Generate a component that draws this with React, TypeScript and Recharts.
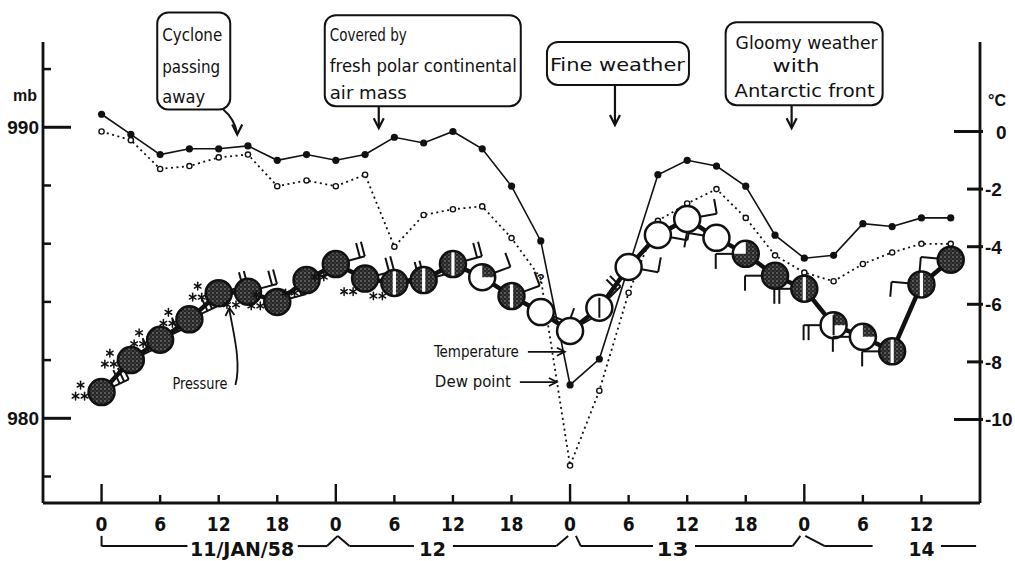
import React from 'react';
import { LineChart, Line, XAxis, YAxis, ReferenceDot, ReferenceLine } from 'recharts';

// ---- data (3-hourly observations, hours from 11 Jan 1958 00h) ----
const hours = [0, 3, 6, 9, 12, 15, 18, 21, 24, 27, 30, 33, 36, 39, 42, 45, 48, 51, 54, 57, 60, 63, 66, 69, 72, 75, 78, 81, 84, 87];
const pressure = [980.9, 982.0, 982.7, 983.4, 984.3, 984.35, 984.0, 984.75, 985.3, 984.8, 984.65, 984.75, 985.3, 984.85, 984.2, 983.65, 983.0, 983.8, 985.2, 986.3, 986.85, 986.2, 985.65, 984.9, 984.45, 983.2, 982.8, 982.3, 984.6, 985.45];
const temperature: (number | null)[] = [0.6, -0.1, -0.8, -0.6, -0.6, -0.5, -1.0, -0.8, -1.0, -0.8, -0.2, -0.4, 0.0, -0.6, -1.9, -3.8, -8.8, -7.9, null, -1.5, -1.0, -1.2, -1.9, -3.6, -4.4, -4.3, -3.2, -3.3, -3.0, -3.0];
const dewPoint = [0.0, -0.3, -1.3, -1.2, -0.9, -0.8, -1.9, -1.7, -1.9, -1.5, -4.0, -2.9, -2.7, -2.6, -3.7, -5.1, -11.6, -9.0, -5.6, -3.1, -2.5, -2.0, -3.0, -4.3, -4.9, -5.2, -4.6, -4.2, -3.9, -3.9];
const doubtfulDewHours = [45];
const cloudCover = [8, 8, 8, 8, 8, 8, 8, 8, 8, 8, 7, 7, 7, 2, 7, 0, 0, 1, 0, 0, 0, 0, 6, 8, 7, 3, 2, 7, 7, 8];
const windStaff = [-25, -25, -25, -25, -15, -15, -15, -15, -15, -15, -15, -15, -15, -20, -20, 20, -30, -45, 10, 10, -10, 190, 180, 180, 180, 180, 180, 180, 185, 185];
const windFeathers = [3, 3, 3, 3, 2, 2, 2, 2, 2, 2, 2, 2, 2, 1, 1, 1, 1, 2, 1, 1, 1, 1, 1, 1, 2, 2, 1, 1, 1, 1];
const snowSymbol = ['***', '***', '***', '***', '***', '**', '***', '**', '**', '**', '**', '', '', '', '', '', '', '', '', '', '', '', '', '', '', '', '', '', '', ''];

// ---- axes ----
const hourTicks = [0, 6, 12, 18, 24, 30, 36, 42, 48, 54, 60, 66, 72, 78, 84];
const pressureTicks = [978, 980, 982, 984, 986, 988, 990, 992];
const pressureLabelled = [980, 990];
const tempTicks = [0, -2, -4, -6, -8, -10];
const tempLabelled = [0, -10];

// ---- day labels under the axis ----
const dayLabelText = ['11/JAN/58', '12', '13', '14'];
const dayLabelHour = [14.4, 33.9, 58.5, 84.0];
const dayLabelWidth = [104, 27, 32, 26];
const bracketLow = 975.61;
const bracketHigh = 975.96;
const brackets: [number, number][][] = [
  [[0, 1], [0, 0], [8.8, 0]],
  [[20.1, 0], [23.1, 0], [24.2, 1], [25.4, 0], [32, 0]],
  [[36, 0], [46.6, 0], [47.8, 1]],
  [[48.6, 1], [49.1, 0], [56.5, 0]],
  [[60.8, 0], [70.8, 0], [71.6, 1]],
  [[72.1, 1], [74.1, 0], [79, 0]],
  [[86, 0], [89.6, 0]],
];

// ---- callouts ----
const calloutText = [
  ['Cyclone', 'passing', 'away'],
  ['Covered by', 'fresh polar continental', 'air mass'],
  ['Fine weather'],
  ['Gloomy weather', 'with', 'Antarctic front'],
];
const calloutHour = [13.9, 28.4, 52.6, 70.7];
const calloutPressure = [989.75, 989.97, 990.08, 989.97];
const calloutLayout = [
  { box: [-80, -122, 73, 97], lines: [[-75, -94, 60], [-75, -62, 58], [-75, -32, 43]], tail: 'curve', stem: -25 },
  { box: [-54, -113, 196, 91], lines: [[-49, -87, 77], [-49, -56, 187], [-49, -29, 77]], tail: 'stem', stem: -22 },
  { box: [-68, -83, 142, 43], lines: [[-65, -54, 135]], tail: 'stem', stem: -40 },
  { box: [-66, -106, 157, 83], lines: [[-56, -79, 142], [-19, -56, 47], [-57, -31, 140]], tail: 'stem', stem: -23 },
];

// inline labels
const pressureNoteHour = 13.1;
const pressureNoteValue = 983.79;
const seriesNoteText = ['Temperature', 'Dew point'];
const seriesNoteHour = [47.47, 46.65];
const seriesNoteValue = [-7.65, -8.7];
const seriesNoteWidth = [85, 76];

const data = hours.map((h, i) => ({
  hour: h,
  pressure: pressure[i],
  temperature: temperature[i],
  dewPoint: dewPoint[i],
}));

const NARROW = "'Liberation Sans Narrow','DejaVu Sans Condensed','Arial Narrow',sans-serif";
const SANS = "'Liberation Sans','DejaVu Sans',Arial,sans-serif";
const INK = '#111';

function PressureTick(props: any) {
  const { x, y, payload } = props;
  const v = payload.value;
  const major = pressureLabelled.includes(v);
  return (
    <g>
      <line x1={x} x2={x + (major ? 28 : 8)} y1={y} y2={y} stroke={INK} strokeWidth={major ? 3 : 2.5} />
      {major && (
        <text x={x - 4} y={y + 7} textAnchor="end" fontSize={19} fontWeight="bold" fontFamily={SANS} fill={INK}>
          {v}
        </text>
      )}
      {v === 990 && (
        <text x={x - 18} y={y - 26} textAnchor="middle" fontSize={16} fontWeight="bold" fontFamily={SANS} fill={INK}>
          mb
        </text>
      )}
    </g>
  );
}

function TempTick(props: any) {
  const { x, y, payload } = props;
  const v = payload.value;
  const major = tempLabelled.includes(v);
  return (
    <g>
      <line x1={x - (major ? 26 : 13)} x2={x + 3} y1={y} y2={y} stroke={INK} strokeWidth={3} />
      <text x={v === 0 ? x + 16 : x + 5} y={y + 7} textAnchor="start" fontSize={19} fontWeight="bold" fontFamily={SANS} fill={INK}>
        {v}
      </text>
      {v === 0 && (
        <text x={x + 17} y={y - 26} textAnchor="middle" fontSize={16} fontWeight="bold" fontFamily={SANS} fill={INK}>
          °C
        </text>
      )}
    </g>
  );
}

function HourTick(props: any) {
  const { x, y, payload } = props;
  const v = payload.value;
  const day = v % 24 === 0;
  return (
    <g>
      <line x1={x} x2={x} y1={y} y2={y - (day ? 19 : 8)} stroke={INK} strokeWidth={2.4} />
      <text x={x} y={y + 28} textAnchor="middle" fontSize={19} fontWeight="bold" fontFamily={NARROW} fill={INK}>
        {v % 24}
      </text>
    </g>
  );
}

function Star({ x, y, s }: { x: number; y: number; s: number }) {
  const c = 0.866 * s;
  const h = 0.5 * s;
  return (
    <g stroke={INK} strokeWidth={1.5} strokeLinecap="round">
      <line x1={x} y1={y - s} x2={x} y2={y + s} />
      <line x1={x - c} y1={y - h} x2={x + c} y2={y + h} />
      <line x1={x - c} y1={y + h} x2={x + c} y2={y - h} />
    </g>
  );
}

function StationDot(props: any) {
  const { cx, cy, index } = props;
  if (cx == null || cy == null) return <g key={`st${index}`} />;
  const r = 13;
  const cover = cloudCover[index];
  const a = (windStaff[index] * Math.PI) / 180;
  const ux = Math.cos(a);
  const uy = Math.sin(a);
  const L = 17;
  const sx = cx + ux * r;
  const sy = cy + uy * r;
  const ex = cx + ux * (r + L);
  const ey = cy + uy * (r + L);
  const fa = ((windStaff[index] - 90) * Math.PI) / 180;
  const fx = Math.cos(fa);
  const fy = Math.sin(fa);
  const feathers = [];
  for (let k = 0; k < windFeathers[index]; k++) {
    const px = ex - ux * k * 5;
    const py = ey - uy * k * 5;
    feathers.push(<line key={`f${k}`} x1={px} y1={py} x2={px + fx * 15} y2={py + fy * 15} stroke={INK} strokeWidth={2} />);
  }
  const snow = snowSymbol[index];
  let coverEl: any = null;
  if (cover === 8) coverEl = <circle cx={cx} cy={cy} r={r} fill="url(#stipple)" />;
  else if (cover === 7)
    coverEl = (
      <g>
        <circle cx={cx} cy={cy} r={r} fill="url(#stipple)" />
        <rect x={cx - 1.6} y={cy - r} width={3.2} height={2 * r} fill="#fff" />
      </g>
    );
  else if (cover === 6)
    coverEl = <path d={`M ${cx} ${cy} L ${cx} ${cy - r} A ${r} ${r} 0 1 1 ${cx - r} ${cy} Z`} fill="url(#stipple)" />;
  else if (cover === 4 || cover === 5)
    coverEl = <path d={`M ${cx} ${cy - r} A ${r} ${r} 0 0 1 ${cx} ${cy + r} Z`} fill="url(#stipple)" />;
  else if (cover === 2 || cover === 3)
    coverEl = <path d={`M ${cx} ${cy} L ${cx} ${cy - r} A ${r} ${r} 0 0 1 ${cx + r} ${cy} Z`} fill="url(#stipple)" />;
  const bar = cover === 1 || cover === 3 || cover === 5;
  return (
    <g key={`st${index}`}>
      <line x1={sx} y1={sy} x2={ex} y2={ey} stroke={INK} strokeWidth={2} />
      {feathers}
      {snow === '***' && (
        <g>
          <Star x={cx - 21} y={cy - 7} s={3.8} />
          <Star x={cx - 26} y={cy + 4} s={3.8} />
          <Star x={cx - 17} y={cy + 4} s={3.8} />
        </g>
      )}
      {snow === '**' && (
        <g>
          <Star x={cx - 21} y={cy + 13} s={3.8} />
          <Star x={cx - 12} y={cy + 13} s={3.8} />
        </g>
      )}
      <circle cx={cx} cy={cy} r={r} fill="#fff" />
      {coverEl}
      {bar && <line x1={cx} x2={cx} y1={cy - r + 3} y2={cy + r - 3} stroke={INK} strokeWidth={2} />}
      <circle cx={cx} cy={cy} r={r} fill="none" stroke={INK} strokeWidth={2.5} />
    </g>
  );
}

function DewDot(props: any) {
  const { cx, cy, index } = props;
  if (cx == null || cy == null) return <g key={`dw${index}`} />;
  if (doubtfulDewHours.includes(hours[index])) {
    return (
      <text key={`dw${index}`} x={cx} y={cy + 5} textAnchor="middle" fontSize={13} fontWeight="bold" fontFamily={SANS} fill={INK}>
        ?
      </text>
    );
  }
  return <circle key={`dw${index}`} cx={cx} cy={cy} r={2.6} fill="#fff" stroke={INK} strokeWidth={1.4} />;
}

function TempDot(props: any) {
  const { cx, cy, index } = props;
  if (cx == null || cy == null) return <g key={`tp${index}`} />;
  return <circle key={`tp${index}`} cx={cx} cy={cy} r={3.6} fill={INK} />;
}

function Callout({ cx, cy, i }: { cx: number; cy: number; i: number }) {
  const lay = calloutLayout[i];
  const [bx, by, bw, bh] = lay.box;
  return (
    <g>
      <rect x={cx + bx} y={cy + by} width={bw} height={bh} rx={11} ry={11} fill="#fff" stroke={INK} strokeWidth={2} />
      {calloutText[i].map((t, k) => (
        <text
          key={k}
          x={cx + lay.lines[k][0]}
          y={cy + lay.lines[k][1]}
          fontSize={17}
          fontFamily={NARROW}
          fill={INK}
          textLength={lay.lines[k][2]}
          lengthAdjust="spacingAndGlyphs"
        >
          {t}
        </text>
      ))}
      {lay.tail === 'curve' ? (
        <path d={`M ${cx - 14} ${cy + lay.stem} Q ${cx - 3} ${cy - 16} ${cx} ${cy - 1}`} fill="none" stroke={INK} strokeWidth={2} />
      ) : (
        <line x1={cx} x2={cx} y1={cy + lay.stem} y2={cy - 1} stroke={INK} strokeWidth={2.2} />
      )}
      <polyline points={`${cx - 5},${cy - 10} ${cx},${cy} ${cx + 5},${cy - 10}`} fill="none" stroke={INK} strokeWidth={2.2} />
    </g>
  );
}

function PressureNote({ cx, cy }: { cx: number; cy: number }) {
  return (
    <g>
      <text x={cx - 57} y={cy + 81} fontSize={16} fontFamily={NARROW} fill={INK} textLength={55} lengthAdjust="spacingAndGlyphs">
        Pressure
      </text>
      <path d={`M ${cx + 6} ${cy + 77} C ${cx + 12} ${cy + 55}, ${cx + 4} ${cy + 25}, ${cx} ${cy + 2}`} fill="none" stroke={INK} strokeWidth={1.8} />
      <polyline points={`${cx - 4},${cy + 8} ${cx},${cy} ${cx + 5},${cy + 7}`} fill="none" stroke={INK} strokeWidth={1.8} />
    </g>
  );
}

function SeriesNote({ cx, cy, i }: { cx: number; cy: number; i: number }) {
  return (
    <g>
      <text
        x={cx - 46 - seriesNoteWidth[i]}
        y={cy + 5}
        fontSize={15}
        fontFamily={NARROW}
        fill={INK}
        textLength={seriesNoteWidth[i]}
        lengthAdjust="spacingAndGlyphs"
      >
        {seriesNoteText[i]}
      </text>
      <line x1={cx - 37} x2={cx - 1} y1={cy} y2={cy} stroke={INK} strokeWidth={1.8} />
      <polyline points={`${cx - 8},${cy - 4} ${cx},${cy} ${cx - 8},${cy + 4}`} fill="none" stroke={INK} strokeWidth={1.8} />
    </g>
  );
}

function DayLabel({ cx, cy, i }: { cx: number; cy: number; i: number }) {
  const w = dayLabelWidth[i];
  return (
    <text
      x={cx}
      y={cy + 10}
      textAnchor="middle"
      fontSize={20}
      fontWeight="bold"
      fontFamily={NARROW}
      fill={INK}
      textLength={w}
      lengthAdjust="spacingAndGlyphs"
    >
      {dayLabelText[i]}
    </text>
  );
}

export default function App() {
  const segs: any[] = [];
  brackets.forEach((poly, pi) => {
    for (let k = 0; k < poly.length - 1; k++) {
      const [h1, l1] = poly[k];
      const [h2, l2] = poly[k + 1];
      segs.push(
        <ReferenceLine
          key={`br${pi}-${k}`}
          yAxisId="p"
          ifOverflow="visible"
          segment={[
            { x: h1, y: l1 ? bracketHigh : bracketLow },
            { x: h2, y: l2 ? bracketHigh : bracketLow },
          ]}
          stroke={INK}
          strokeWidth={2}
        />
      );
    }
  });

  return (
    <div style={{ position: 'absolute', left: 0, top: 0, width: 1015, height: 561, background: '#fff' }}>
      <LineChart width={1015} height={561} data={data} margin={{ top: 42, right: 0, bottom: 0, left: 0 }}>
        <defs>
          <pattern id="stipple" width="4" height="4" patternUnits="userSpaceOnUse">
            <rect width="4" height="4" fill="#262626" />
            <circle cx="1" cy="1" r="0.8" fill="#9a9a9a" />
            <circle cx="3" cy="3" r="0.6" fill="#777" />
          </pattern>
        </defs>
        <XAxis
          dataKey="hour"
          type="number"
          domain={[-6, 90]}
          allowDataOverflow
          ticks={hourTicks}
          interval={0}
          height={58}
          tickSize={0}
          tickMargin={0}
          tickLine={false}
          axisLine={{ stroke: INK, strokeWidth: 3 }}
          tick={<HourTick />}
        />
        <YAxis
          yAxisId="p"
          orientation="left"
          type="number"
          domain={[977.09, 992.93]}
          allowDataOverflow
          ticks={pressureTicks}
          interval={0}
          width={43}
          tickSize={0}
          tickMargin={0}
          tickLine={false}
          axisLine={{ stroke: INK, strokeWidth: 2.8 }}
          tick={<PressureTick />}
        />
        <YAxis
          yAxisId="t"
          orientation="right"
          type="number"
          domain={[-12.9, 3.108]}
          allowDataOverflow
          ticks={tempTicks}
          interval={0}
          width={35}
          tickSize={0}
          tickMargin={0}
          tickLine={false}
          axisLine={{ stroke: INK, strokeWidth: 2.8 }}
          tick={<TempTick />}
        />
        <Line
          yAxisId="t"
          dataKey="dewPoint"
          type="linear"
          stroke={INK}
          strokeWidth={1.8}
          strokeDasharray="2 3.5"
          dot={(p: any) => <DewDot {...p} key={`dw${p.index}`} />}
          isAnimationActive={false}
        />
        <Line
          yAxisId="t"
          dataKey="temperature"
          type="linear"
          stroke={INK}
          strokeWidth={1.6}
          connectNulls
          dot={(p: any) => <TempDot {...p} key={`tp${p.index}`} />}
          isAnimationActive={false}
        />
        <Line
          yAxisId="p"
          dataKey="pressure"
          type="linear"
          stroke={INK}
          strokeWidth={4.5}
          dot={(p: any) => <StationDot {...p} key={`st${p.index}`} />}
          isAnimationActive={false}
        />
        {segs}
        {dayLabelText.map((_, i) => (
          <ReferenceDot
            key={`day${i}`}
            yAxisId="p"
            x={dayLabelHour[i]}
            y={bracketLow}
            ifOverflow="visible"
            shape={(p: any) => <DayLabel cx={p.cx} cy={p.cy} i={i} />}
          />
        ))}
        {calloutText.map((_, i) => (
          <ReferenceDot
            key={`co${i}`}
            yAxisId="p"
            x={calloutHour[i]}
            y={calloutPressure[i]}
            ifOverflow="visible"
            shape={(p: any) => <Callout cx={p.cx} cy={p.cy} i={i} />}
          />
        ))}
        <ReferenceDot
          yAxisId="p"
          x={pressureNoteHour}
          y={pressureNoteValue}
          ifOverflow="visible"
          shape={(p: any) => <PressureNote cx={p.cx} cy={p.cy} />}
        />
        {seriesNoteText.map((_, i) => (
          <ReferenceDot
            key={`sn${i}`}
            yAxisId="t"
            x={seriesNoteHour[i]}
            y={seriesNoteValue[i]}
            ifOverflow="visible"
            shape={(p: any) => <SeriesNote cx={p.cx} cy={p.cy} i={i} />}
          />
        ))}
      </LineChart>
    </div>
  );
}
